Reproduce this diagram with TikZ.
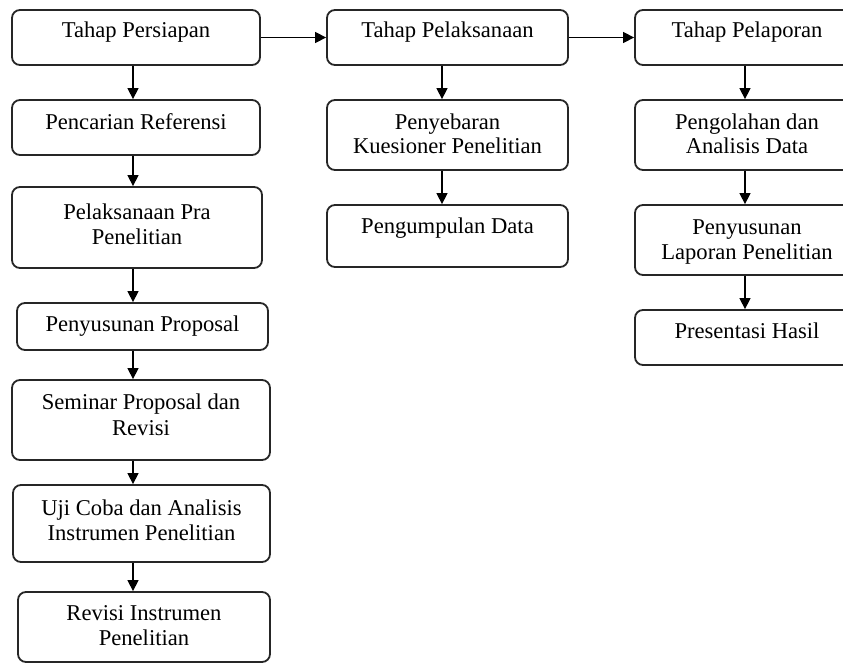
\documentclass[tikz,border=0pt]{standalone}
\usepackage{fontspec}
\setmainfont{Liberation Serif}
\usetikzlibrary{arrows.meta}
\newcommand{\bt}[4]{\parbox[c][#2][t]{#1}{\centering\rule{0pt}{#3}#4\par}}
\tikzset{
  stepbox/.style={draw=black!85, line width=0.9pt, rounded corners=4pt, inner sep=0pt,
    font=\fontsize{11.3}{12.5}\selectfont},
  arr/.style={draw=black, line width=0.75pt, -{Triangle[length=5.5pt,width=5.5pt]}}
}
\begin{document}
\begin{tikzpicture}[x=0.5pt,y=-0.5pt]
\useasboundingbox (0,0) rectangle (843,664);
\clip (0,0) rectangle (843,664);
% column 1
\node[stepbox] (p1) at (136,37.5) {\bt{124pt}{27.5pt}{14pt}{Tahap Persiapan}};
\node[stepbox] (p2) at (136,127.5) {\bt{124pt}{27.5pt}{14.5pt}{Pencarian Referensi}};
\node[stepbox] (p3) at (137,227.5) {\bt{125pt}{40.5pt}{16pt}{Pelaksanaan Pra\\Penelitian}};
\node[stepbox] (p4) at (142.5,326.5) {\bt{125.5pt}{23.5pt}{14.5pt}{Penyusunan Proposal}};
\node[stepbox] (p5) at (141,420) {\bt{129pt}{40pt}{15pt}{Seminar Proposal dan\\Revisi}};
\node[stepbox] (p6) at (141.5,523.5) {\bt{128.5pt}{38.5pt}{15pt}{Uji Coba dan Analisis\\Instrumen Penelitian}};
\node[stepbox] (p7) at (144,627) {\bt{126pt}{35pt}{14pt}{Revisi Instrumen\\Penelitian}};
% column 2
\node[stepbox] (q1) at (447.5,37.5) {\bt{120.5pt}{27.5pt}{14pt}{Tahap Pelaksanaan}};
\node[stepbox] (q2) at (447.5,135) {\bt{120.5pt}{35pt}{14.5pt}{Penyebaran\\Kuesioner Penelitian}};
\node[stepbox] (q3) at (447.5,236) {\bt{120.5pt}{31pt}{14.5pt}{Pengumpulan Data}};
% column 3
\node[stepbox] (r1) at (747,37.5) {\bt{112pt}{27.5pt}{14pt}{Tahap Pelaporan}};
\node[stepbox] (r2) at (747,135) {\bt{112pt}{35pt}{14.5pt}{Pengolahan dan\\Analisis Data}};
\node[stepbox] (r3) at (747,240) {\bt{112pt}{35pt}{14.5pt}{Penyusunan\\Laporan Penelitian}};
\node[stepbox] (r4) at (747,337.5) {\bt{112pt}{27.5pt}{14pt}{Presentasi Hasil}};
% arrow columns
\coordinate (a1) at (133,0);
\coordinate (a2) at (442,0);
\coordinate (a3) at (745,0);
% horizontal
\draw[arr] (p1.east) -- (q1.west);
\draw[arr] (q1.east) -- (r1.west);
% column 1 arrows
\draw[arr] (p1.south -| a1) -- (p2.north -| a1);
\draw[arr] (p2.south -| a1) -- (p3.north -| a1);
\draw[arr] (p3.south -| a1) -- (p4.north -| a1);
\draw[arr] (p4.south -| a1) -- (p5.north -| a1);
\draw[arr] (p5.south -| a1) -- (p6.north -| a1);
\draw[arr] (p6.south -| a1) -- (p7.north -| a1);
% column 2 arrows
\draw[arr] (q1.south -| a2) -- (q2.north -| a2);
\draw[arr] (q2.south -| a2) -- (q3.north -| a2);
% column 3 arrows
\draw[arr] (r1.south -| a3) -- (r2.north -| a3);
\draw[arr] (r2.south -| a3) -- (r3.north -| a3);
\draw[arr] (r3.south -| a3) -- (r4.north -| a3);
\end{tikzpicture}
\end{document}
